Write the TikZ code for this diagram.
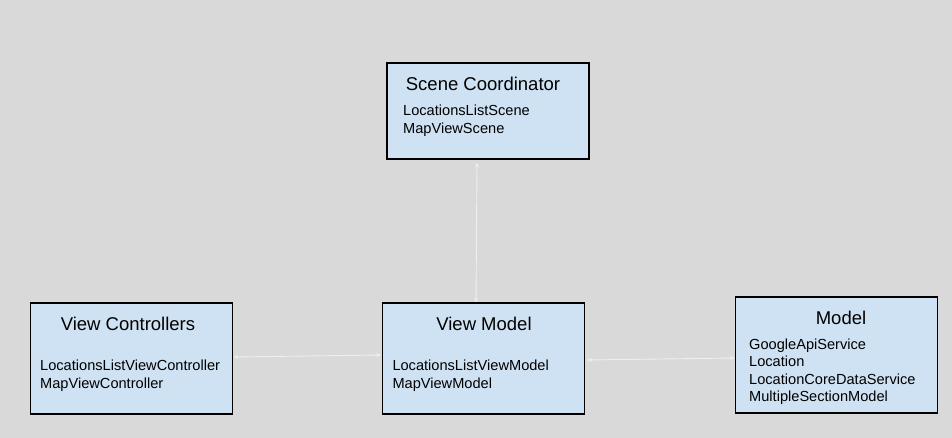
\documentclass[tikz,border=0pt]{standalone}
\usepackage{fontspec}
\setmainfont{Liberation Sans}
\usepackage{xcolor}
\usepackage{tikz}
\usetikzlibrary{arrows.meta}

\definecolor{bgray}{HTML}{D9D9D9}
\definecolor{lblue}{HTML}{CFE2F3}
\definecolor{lgray}{HTML}{EFEFEF}

\begin{document}
\begin{tikzpicture}[x=1pt, y=-1pt]
		\tikzstyle{box} = [draw=black, line width=1.2pt, fill=lblue, rectangle, minimum width=202pt, inner sep=0pt]
		\tikzstyle{title} = [anchor=base, inner sep=0pt, font=\fontsize{18.5}{22}\selectfont]
		\tikzstyle{list} = [anchor=north west, inner sep=0pt, align=left, font=\fontsize{14.6}{17.6}\selectfont]
		\tikzstyle{arrow} = [lgray, line width=0.9pt, {Stealth[length=5pt, width=4pt]}-{Stealth[length=5pt, width=4pt]}]
		
		\fill[bgray] (0, 0) rectangle (952, 438);
		\useasboundingbox (0, 0) rectangle (952, 438);
		
		\node[box, minimum height=96pt]		at (488, 111)		(b1)	{};
		\node[box, minimum height=111pt]	at (131.5, 358.5)	(b2)	{};
		\node[box, minimum height=111pt]	at (483.8, 358.5)	(b3)	{};
		\node[box, minimum height=116pt]	at (836.5, 355)		(b4)	{};
		
		\node[title]	at (483, 90.7)		(t1)	{Scene Coordinator};
		\node[title]	at (128, 330.7)		(t2)	{View Controllers};
		\node[title]	at (484, 330.7)		(t3)	{View Model};
		\node[title]	at (841, 324.3)		(t4)	{Model};
		
		\node[list]		at (403, 105)		(l1)	{LocationsListScene \\ MapViewScene};
		\node[list]		at (40, 360)		(l2)	{LocationsListViewController \\ MapViewController};
		\node[list]		at (392.3, 360)		(l3)	{LocationsListViewModel \\ MapViewModel};
		\node[list]		at (749, 338.3)		(l4)	{GoogleApiService \\ Location \\ LocationCoreDataService \\ MultipleSectionModel};
		
		\draw [arrow] ([xshift=-11pt, yshift=-3pt]b1.south) -- ([xshift=-7.8pt]b3.north);
		\draw [arrow] ([xshift=0.5pt, yshift=1.5pt]b2.east) -- ([xshift=-1pt, yshift=3.5pt]b3.west);
		\draw [arrow] ([xshift=1.5pt, yshift=-1.5pt]b3.east) -- ([yshift=-3pt]b4.west);
		
	\end{tikzpicture}
\end{document}
